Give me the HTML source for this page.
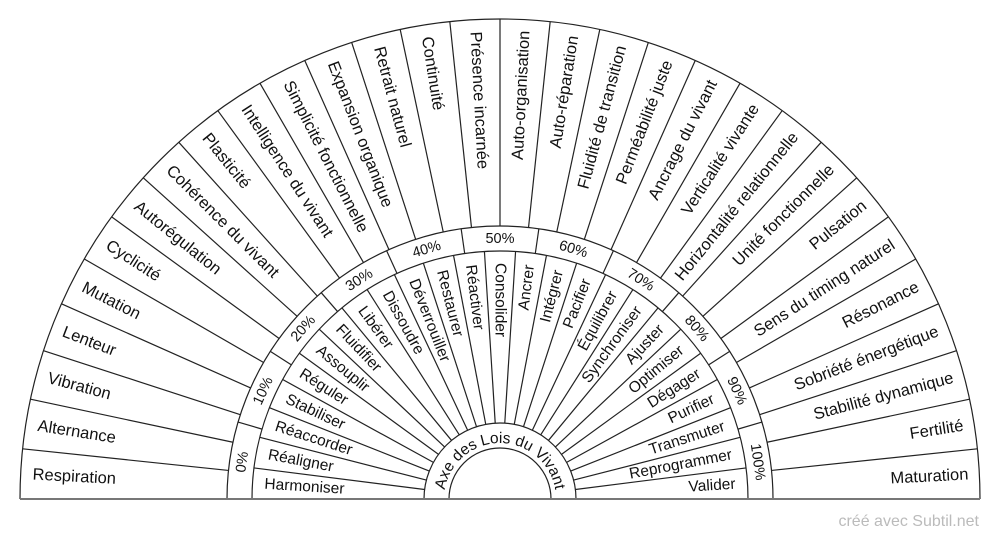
<!DOCTYPE html>
<html><head><meta charset="utf-8"><style>
html,body{margin:0;padding:0;background:#fff;width:1000px;height:540px;overflow:hidden}
svg text{font-family:"Liberation Sans",Arial,sans-serif;fill:#111}
</style></head><body>
<svg width="1000" height="540" viewBox="0 0 1000 540" xmlns="http://www.w3.org/2000/svg">
<g fill="none" stroke="#222" stroke-width="1.2">
<path d="M20 499 A480 480 0 0 1 980 499"/>
<path d="M227 499 A273 273 0 0 1 773 499"/>
<path d="M252 499 A248 248 0 0 1 748 499"/>
<path d="M424 499 A76 76 0 0 1 576 499"/>
<path d="M449 499 A51 51 0 0 1 551 499"/>
<g>
<line x1="20" y1="499" x2="227" y2="499" transform="rotate(6 500 499)"/>
<line x1="20" y1="499" x2="227" y2="499" transform="rotate(12 500 499)"/>
<line x1="20" y1="499" x2="227" y2="499" transform="rotate(18 500 499)"/>
<line x1="20" y1="499" x2="227" y2="499" transform="rotate(24 500 499)"/>
<line x1="20" y1="499" x2="227" y2="499" transform="rotate(30 500 499)"/>
<line x1="20" y1="499" x2="227" y2="499" transform="rotate(36 500 499)"/>
<line x1="20" y1="499" x2="227" y2="499" transform="rotate(42 500 499)"/>
<line x1="20" y1="499" x2="227" y2="499" transform="rotate(48 500 499)"/>
<line x1="20" y1="499" x2="227" y2="499" transform="rotate(54 500 499)"/>
<line x1="20" y1="499" x2="227" y2="499" transform="rotate(60 500 499)"/>
<line x1="20" y1="499" x2="227" y2="499" transform="rotate(66 500 499)"/>
<line x1="20" y1="499" x2="227" y2="499" transform="rotate(72 500 499)"/>
<line x1="20" y1="499" x2="227" y2="499" transform="rotate(78 500 499)"/>
<line x1="20" y1="499" x2="227" y2="499" transform="rotate(84 500 499)"/>
<line x1="20" y1="499" x2="227" y2="499" transform="rotate(90 500 499)"/>
<line x1="20" y1="499" x2="227" y2="499" transform="rotate(96 500 499)"/>
<line x1="20" y1="499" x2="227" y2="499" transform="rotate(102 500 499)"/>
<line x1="20" y1="499" x2="227" y2="499" transform="rotate(108 500 499)"/>
<line x1="20" y1="499" x2="227" y2="499" transform="rotate(114 500 499)"/>
<line x1="20" y1="499" x2="227" y2="499" transform="rotate(120 500 499)"/>
<line x1="20" y1="499" x2="227" y2="499" transform="rotate(126 500 499)"/>
<line x1="20" y1="499" x2="227" y2="499" transform="rotate(132 500 499)"/>
<line x1="20" y1="499" x2="227" y2="499" transform="rotate(138 500 499)"/>
<line x1="20" y1="499" x2="227" y2="499" transform="rotate(144 500 499)"/>
<line x1="20" y1="499" x2="227" y2="499" transform="rotate(150 500 499)"/>
<line x1="20" y1="499" x2="227" y2="499" transform="rotate(156 500 499)"/>
<line x1="20" y1="499" x2="227" y2="499" transform="rotate(162 500 499)"/>
<line x1="20" y1="499" x2="227" y2="499" transform="rotate(168 500 499)"/>
<line x1="20" y1="499" x2="227" y2="499" transform="rotate(174 500 499)"/>
</g>
<g>
<line x1="252" y1="499" x2="424" y2="499" transform="rotate(7.2 500 499)"/>
<line x1="252" y1="499" x2="424" y2="499" transform="rotate(14.4 500 499)"/>
<line x1="252" y1="499" x2="424" y2="499" transform="rotate(21.6 500 499)"/>
<line x1="252" y1="499" x2="424" y2="499" transform="rotate(28.8 500 499)"/>
<line x1="252" y1="499" x2="424" y2="499" transform="rotate(36 500 499)"/>
<line x1="252" y1="499" x2="424" y2="499" transform="rotate(43.2 500 499)"/>
<line x1="252" y1="499" x2="424" y2="499" transform="rotate(50.4 500 499)"/>
<line x1="252" y1="499" x2="424" y2="499" transform="rotate(57.6 500 499)"/>
<line x1="252" y1="499" x2="424" y2="499" transform="rotate(64.8 500 499)"/>
<line x1="252" y1="499" x2="424" y2="499" transform="rotate(72 500 499)"/>
<line x1="252" y1="499" x2="424" y2="499" transform="rotate(79.2 500 499)"/>
<line x1="252" y1="499" x2="424" y2="499" transform="rotate(86.4 500 499)"/>
<line x1="252" y1="499" x2="424" y2="499" transform="rotate(93.6 500 499)"/>
<line x1="252" y1="499" x2="424" y2="499" transform="rotate(100.8 500 499)"/>
<line x1="252" y1="499" x2="424" y2="499" transform="rotate(108 500 499)"/>
<line x1="252" y1="499" x2="424" y2="499" transform="rotate(115.2 500 499)"/>
<line x1="252" y1="499" x2="424" y2="499" transform="rotate(122.4 500 499)"/>
<line x1="252" y1="499" x2="424" y2="499" transform="rotate(129.6 500 499)"/>
<line x1="252" y1="499" x2="424" y2="499" transform="rotate(136.8 500 499)"/>
<line x1="252" y1="499" x2="424" y2="499" transform="rotate(144 500 499)"/>
<line x1="252" y1="499" x2="424" y2="499" transform="rotate(151.2 500 499)"/>
<line x1="252" y1="499" x2="424" y2="499" transform="rotate(158.4 500 499)"/>
<line x1="252" y1="499" x2="424" y2="499" transform="rotate(165.6 500 499)"/>
<line x1="252" y1="499" x2="424" y2="499" transform="rotate(172.8 500 499)"/>
</g>
<g>
<line x1="227" y1="499" x2="252" y2="499" transform="rotate(16.3636 500 499)"/>
<line x1="227" y1="499" x2="252" y2="499" transform="rotate(32.7273 500 499)"/>
<line x1="227" y1="499" x2="252" y2="499" transform="rotate(49.0909 500 499)"/>
<line x1="227" y1="499" x2="252" y2="499" transform="rotate(65.4545 500 499)"/>
<line x1="227" y1="499" x2="252" y2="499" transform="rotate(81.8182 500 499)"/>
<line x1="227" y1="499" x2="252" y2="499" transform="rotate(98.1818 500 499)"/>
<line x1="227" y1="499" x2="252" y2="499" transform="rotate(114.5455 500 499)"/>
<line x1="227" y1="499" x2="252" y2="499" transform="rotate(130.9091 500 499)"/>
<line x1="227" y1="499" x2="252" y2="499" transform="rotate(147.2727 500 499)"/>
<line x1="227" y1="499" x2="252" y2="499" transform="rotate(163.6364 500 499)"/>
</g>
</g>
<line x1="20" y1="499" x2="980" y2="499" stroke="#777" stroke-width="2"/>

<g font-size="16.5" dominant-baseline="central">
<text x="32" y="499" transform="rotate(3 500 499)">Respiration</text>
<text x="32" y="499" transform="rotate(9 500 499)">Alternance</text>
<text x="32" y="499" transform="rotate(15 500 499)">Vibration</text>
<text x="32" y="499" transform="rotate(21 500 499)">Lenteur</text>
<text x="32" y="499" transform="rotate(27 500 499)">Mutation</text>
<text x="32" y="499" transform="rotate(33 500 499)">Cyclicité</text>
<text x="32" y="499" transform="rotate(39 500 499)">Autorégulation</text>
<text x="32" y="499" transform="rotate(45 500 499)">Cohérence du vivant</text>
<text x="32" y="499" transform="rotate(51 500 499)">Plasticité</text>
<text x="32" y="499" transform="rotate(57 500 499)">Intelligence du vivant</text>
<text x="32" y="499" transform="rotate(63 500 499)">Simplicité fonctionnelle</text>
<text x="32" y="499" transform="rotate(69 500 499)">Expansion organique</text>
<text x="32" y="499" transform="rotate(75 500 499)">Retrait naturel</text>
<text x="32" y="499" transform="rotate(81 500 499)">Continuité</text>
<text x="32" y="499" transform="rotate(87 500 499)">Présence incarnée</text>
<g text-anchor="end">
<text x="969" y="499" transform="rotate(-87 500 499)">Auto-organisation</text>
<text x="969" y="499" transform="rotate(-81 500 499)">Auto-réparation</text>
<text x="969" y="499" transform="rotate(-75 500 499)">Fluidité de transition</text>
<text x="969" y="499" transform="rotate(-69 500 499)">Perméabilité juste</text>
<text x="969" y="499" transform="rotate(-63 500 499)">Ancrage du vivant</text>
<text x="969" y="499" transform="rotate(-57 500 499)">Verticalité vivante</text>
<text x="969" y="499" transform="rotate(-51 500 499)">Horizontalité relationnelle</text>
<text x="969" y="499" transform="rotate(-45 500 499)">Unité fonctionnelle</text>
<text x="969" y="499" transform="rotate(-39 500 499)">Pulsation</text>
<text x="969" y="499" transform="rotate(-33 500 499)">Sens du timing naturel</text>
<text x="969" y="499" transform="rotate(-27 500 499)">Résonance</text>
<text x="969" y="499" transform="rotate(-21 500 499)">Sobriété énergétique</text>
<text x="969" y="499" transform="rotate(-15 500 499)">Stabilité dynamique</text>
<text x="969" y="499" transform="rotate(-9 500 499)">Fertilité</text>
<text x="969" y="499" transform="rotate(-3 500 499)">Maturation</text>
</g>
</g>

<g font-size="15.5" dominant-baseline="central">
<text x="264" y="499" transform="rotate(3.6 500 499)">Harmoniser</text>
<text x="264" y="499" transform="rotate(10.8 500 499)">Réaligner</text>
<text x="264" y="499" transform="rotate(18 500 499)">Réaccorder</text>
<text x="264" y="499" transform="rotate(25.2 500 499)">Stabiliser</text>
<text x="264" y="499" transform="rotate(32.4 500 499)">Réguler</text>
<text x="264" y="499" transform="rotate(39.6 500 499)">Assouplir</text>
<text x="264" y="499" transform="rotate(46.8 500 499)">Fluidifier</text>
<text x="264" y="499" transform="rotate(54 500 499)">Libérer</text>
<text x="264" y="499" transform="rotate(61.2 500 499)">Dissoudre</text>
<text x="264" y="499" transform="rotate(68.4 500 499)">Déverrouiller</text>
<text x="264" y="499" transform="rotate(75.6 500 499)">Restaurer</text>
<text x="264" y="499" transform="rotate(82.8 500 499)">Réactiver</text>
<text x="264" y="499" transform="rotate(90 500 499)">Consolider</text>
<g text-anchor="end">
<text x="736" y="499" transform="rotate(-82.8 500 499)">Ancrer</text>
<text x="736" y="499" transform="rotate(-75.6 500 499)">Intégrer</text>
<text x="736" y="499" transform="rotate(-68.4 500 499)">Pacifier</text>
<text x="736" y="499" transform="rotate(-61.2 500 499)">Équilibrer</text>
<text x="736" y="499" transform="rotate(-54 500 499)">Synchroniser</text>
<text x="736" y="499" transform="rotate(-46.8 500 499)">Ajuster</text>
<text x="736" y="499" transform="rotate(-39.6 500 499)">Optimiser</text>
<text x="736" y="499" transform="rotate(-32.4 500 499)">Dégager</text>
<text x="736" y="499" transform="rotate(-25.2 500 499)">Purifier</text>
<text x="736" y="499" transform="rotate(-18 500 499)">Transmuter</text>
<text x="736" y="499" transform="rotate(-10.8 500 499)">Reprogrammer</text>
<text x="736" y="499" transform="rotate(-3.6 500 499)">Valider</text>
</g>
</g>

<g font-size="14.5" text-anchor="middle" dominant-baseline="central">
<text x="500" y="239" transform="rotate(-81.818 500 499)">0%</text>
<text x="500" y="239" transform="rotate(-65.455 500 499)">10%</text>
<text x="500" y="239" transform="rotate(-49.091 500 499)">20%</text>
<text x="500" y="239" transform="rotate(-32.727 500 499)">30%</text>
<text x="500" y="239" transform="rotate(-16.364 500 499)">40%</text>
<text x="500" y="239">50%</text>
<text x="500" y="239" transform="rotate(16.364 500 499)">60%</text>
<text x="500" y="239" transform="rotate(32.727 500 499)">70%</text>
<text x="500" y="239" transform="rotate(49.091 500 499)">80%</text>
<text x="500" y="239" transform="rotate(65.455 500 499)">90%</text>
<text x="500" y="239" transform="rotate(81.818 500 499)">100%</text>
</g>

<defs><path id="axe" d="M444 499 A56 56 0 0 1 556 499"/></defs>
<text font-size="15.5"><textPath href="#axe" startOffset="50%" text-anchor="middle">Axe des Lois du Vivant</textPath></text>

<text x="979" y="526" font-size="16" text-anchor="end" style="fill:#bbb">créé avec Subtil.net</text>
</svg>
</body></html>
